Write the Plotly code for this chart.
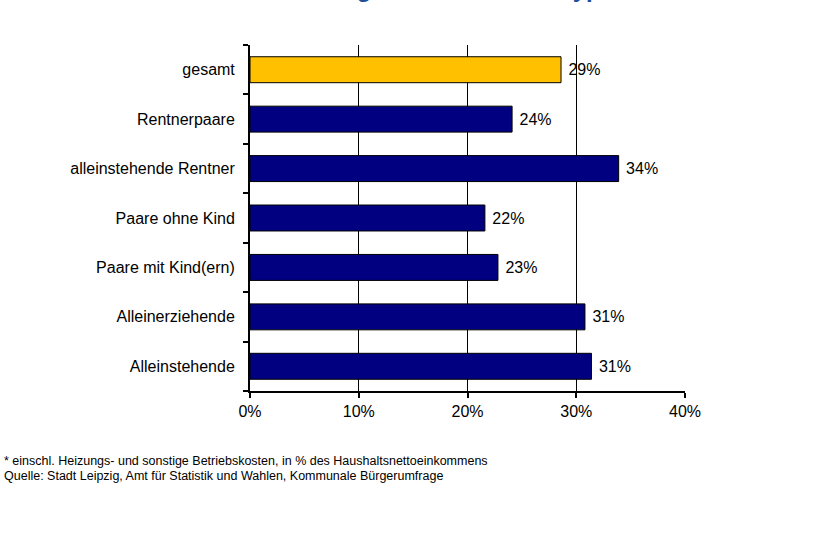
import plotly.graph_objects as go

# Haushaltstypen (von unten nach oben) und Wohnkostenanteil in %
categories = [
    "Alleinstehende",
    "Alleinerziehende",
    "Paare mit Kind(ern)",
    "Paare ohne Kind",
    "alleinstehende Rentner",
    "Rentnerpaare",
    "gesamt",
]
shares = [31.4, 30.8, 22.8, 21.6, 33.9, 24.1, 28.6]
bar_colors = ["#000080", "#000080", "#000080", "#000080", "#000080", "#000080", "#FFC000"]

x_ticks = [0, 10, 20, 30, 40]
x_tick_labels = ["0%", "10%", "20%", "30%", "40%"]

title_text = "<b>Mietbelastung* nach Haushaltstyp</b>"
note_lines = [
    "* einschl. Heizungs- und sonstige Betriebskosten, in % des Haushaltsnettoeinkommens",
    "Quelle: Stadt Leipzig, Amt für Statistik und Wahlen, Kommunale Bürgerumfrage",
]

FONT = "Liberation Sans, Arial, sans-serif"

fig = go.Figure(
    go.Bar(
        x=shares,
        y=categories,
        orientation="h",
        marker=dict(color=bar_colors, line=dict(color="#000000", width=1)),
        texttemplate="\u00a0%{x:.0f}%",
        textposition="outside",
        textfont=dict(family=FONT, size=16, color="#000000"),
        cliponaxis=False,
        hoverinfo="skip",
    )
)

fig.update_layout(
    width=813,
    height=537,
    margin=dict(l=250, r=128, t=45, b=146),
    paper_bgcolor="#FFFFFF",
    plot_bgcolor="#FFFFFF",
    bargap=0.475,
    showlegend=False,
    font=dict(family=FONT, size=16, color="#000000"),
)

fig.update_xaxes(
    range=[0, 40],
    tickvals=x_ticks,
    ticktext=x_tick_labels,
    showgrid=True,
    gridcolor="#000000",
    gridwidth=1,
    showline=True,
    linecolor="#000000",
    linewidth=2,
    ticks="outside",
    ticklen=5,
    tickwidth=2,
    tickcolor="#000000",
    zeroline=False,
    tickfont=dict(family=FONT, size=16, color="#000000"),
)

fig.update_yaxes(
    categoryorder="array",
    categoryarray=categories,
    showline=True,
    linecolor="#000000",
    linewidth=2,
    ticks="outside",
    tickson="boundaries",
    ticklen=5,
    tickwidth=2,
    tickcolor="#000000",
    ticklabelstandoff=10,
    tickfont=dict(family=FONT, size=16, color="#000000"),
)

# Titel, nur der untere Rand ragt in die Seite
fig.add_annotation(
    text=title_text,
    xref="paper",
    yref="paper",
    x=(406 - 250) / 435.3,
    y=1.162,
    xanchor="center",
    yanchor="middle",
    showarrow=False,
    font=dict(family=FONT, size=24, color="#1F4E9A"),
)

# Fußnote und Quelle
for i, line in enumerate(note_lines):
    fig.add_annotation(
        text=line,
        xref="paper",
        yref="paper",
        x=(2 - 250) / 435.3,
        y=(391 - (461 + 15 * i)) / 346,
        xanchor="left",
        yanchor="middle",
        showarrow=False,
        font=dict(family=FONT, size=12.5, color="#000000"),
    )

fig.write_html("out.html")
